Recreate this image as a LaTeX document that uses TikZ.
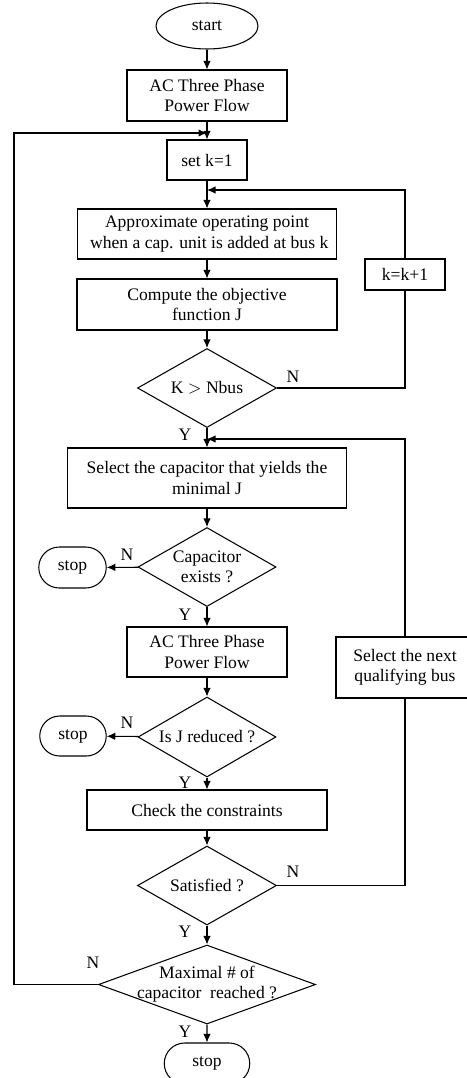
\documentclass[tikz,border=0pt]{standalone}
\usepackage{fontspec}
\setmainfont{Liberation Serif}
\usetikzlibrary{positioning,shapes.geometric,shapes.misc,arrows.meta}

\begin{document}
\begin{tikzpicture}[
  font=\fontsize{10}{11.5}\selectfont, >={Latex[length=1.7mm,width=1.5mm]},
  line width=0.6pt,
  every node/.style={inner sep=1pt, align=center},
  proc/.style={draw, rectangle, minimum height=1cm},
  test/.style={draw, diamond, aspect=1.75, minimum width=2.78cm, minimum height=1.58cm, inner sep=0pt},
  term/.style={draw, rounded rectangle, minimum width=1.42cm, minimum height=0.82cm},
  lbl/.style={inner sep=0pt},
  arr/.style={->}
]
  \useasboundingbox (0,0) rectangle (9.32,-21.56);

  % main column
  \node[draw, ellipse, minimum width=2.04cm, minimum height=0.92cm] (start) at (4.14,-0.52) {start};
  \node[proc, minimum width=3.2cm, minimum height=1.02cm] (ac1) at (4.14,-1.91) {AC Three Phase\\Power Flow};
  \node[proc, minimum width=1.6cm, minimum height=0.8cm] (setk) at (4.14,-3.2) {set k=1};
  \node[proc, minimum width=5.18cm] (approx) at (4.14,-4.68) {Approximate operating point\\\ when a cap. unit is added at bus k};
  \node[proc, minimum width=5.2cm, minimum height=1.02cm] (objf) at (4.14,-6.09) {Compute the objective\\function J};
  \node[test] (knbus) at (4.14,-7.76) {K $>$ Nbus};
  \node[proc, minimum width=5.58cm, minimum height=1.2cm] (select) at (4.14,-9.56) {Select the capacitor that yields the\\minimal J};
  \node[test, minimum width=2.76cm] (capex) at (4.14,-11.34) {Capacitor\\exists ?};
  \node[proc, minimum width=3.2cm] (ac2) at (4.14,-13.04) {AC Three Phase\\Power Flow};
  \node[test, minimum width=2.76cm, minimum height=1.6cm] (jred) at (4.14,-14.74) {Is J reduced ?};
  \node[proc, minimum width=4.8cm, minimum height=0.8cm] (check) at (4.14,-16.2) {Check the constraints};
  \node[test] (sat) at (4.14,-17.71) {Satisfied ?};
  \node[test, minimum width=4.34cm, aspect=2.75, inner xsep=-0.28cm] (maxcap) at (4.14,-19.69) {Maximal \# of\\capacitor\ \ reached ?};
  \node[term, minimum width=1.78cm] (stop3) at (4.14,-21.27) {stop};

  % side nodes
  \node[term] (stop1) at (1.45,-11.35) {stop};
  \node[term, minimum width=1.4cm, minimum height=0.8cm] (stop2) at (1.46,-14.72) {stop};
  \node[proc, minimum width=1.6cm, minimum height=0.62cm] (kinc) at (8.1,-5.49) {k=k+1};
  \node[proc, minimum width=2.76cm, minimum height=1.22cm] (next) at (8.1,-13.35) {Select the next\\qualifying bus};

  % joins
  \coordinate (j1) at (4.14,-2.66);
  \coordinate (j2) at (4.14,-3.8);
  \coordinate (j3) at (4.14,-8.78);

  \draw[arr] (start) -- (ac1);
  \draw[arr] (ac1) -- (setk);
  \draw[arr] (setk) -- (approx);
  \draw[arr] (approx) -- (objf);
  \draw[arr] (objf) -- (knbus);
  \draw[arr] (knbus) -- (select);
  \draw[arr] (select) -- (capex);
  \draw[arr] (capex) -- (ac2);
  \draw[arr] (ac2) -- (jred);
  \draw[arr] (jred) -- (check);
  \draw[arr] (check) -- (sat);
  \draw[arr] (sat) -- (maxcap);
  \draw[arr] (maxcap) -- (stop3);
  \draw[arr] (capex) -- (stop1);
  \draw[arr] (jred) -- (stop2);

  % loops
  \draw (knbus.east) -| (kinc.south);
  \draw[arr] (kinc.north) |- (j2);
  \draw (sat.east) -| (next.south);
  \draw[arr] (next.north) |- (j3);
  \draw[arr] (maxcap.west) -| (0.28,-2.66) -- (j1);

  % branch labels
  \node[lbl] (n1) at (5.86,-7.54) {N};
  \node[lbl] (y1) at (3.7,-8.7) {Y};
  \node[lbl] (n2) at (2.54,-11.1) {N};
  \node[lbl] (y2) at (3.7,-12.3) {Y};
  \node[lbl] (n3) at (2.54,-14.46) {N};
  \node[lbl] (y3) at (3.7,-15.66) {Y};
  \node[lbl] (n4) at (5.86,-17.44) {N};
  \node[lbl] (y4) at (3.7,-18.64) {Y};
  \node[lbl] (n5) at (1.86,-19.26) {N};
  \node[lbl] (y5) at (3.7,-20.64) {Y};
\end{tikzpicture}
\end{document}
